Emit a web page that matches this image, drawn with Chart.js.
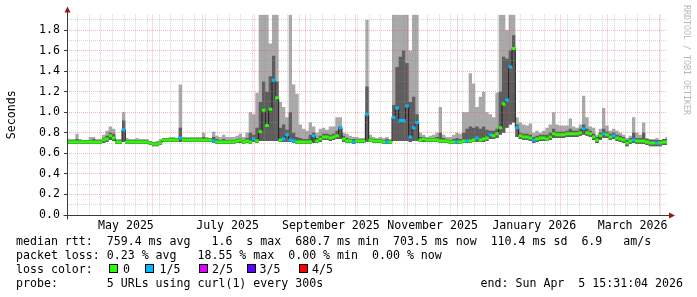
<!DOCTYPE html>
<html>
<head>
<meta charset="utf-8">
<script src="https://cdn.jsdelivr.net/npm/chart.js@4.4.1/dist/chart.umd.min.js"></script>
<style>
  html, body { margin:0; padding:0; background:#fff; }
  #wrap { position:relative; width:697px; height:297px; background:#fff; overflow:hidden; }
  #c { position:absolute; left:0; top:0; }
  .mono { font-family:'DejaVu Sans Mono', monospace; font-size:11.6px; color:#000; white-space:pre; position:absolute; margin:0; line-height:14px; }
  .box { position:absolute; width:7px; height:7px; border:1px solid #000; }
  #credit { position:absolute; left:682px; top:5px; writing-mode:vertical-rl; font-family:'DejaVu Sans Mono', monospace; font-size:8.3px; color:#b8b8b8; white-space:pre; line-height:10px; }
</style>
</head>
<body>
<div id="wrap">
  <canvas id="c" width="697" height="297"></canvas>
  <div id="credit">RRDTOOL / TOBI OETIKER</div>
  <div class="mono" style="left:16px;top:234px;">median rtt:  759.4 ms avg   1.6  s max  680.7 ms min  703.5 ms now  110.4 ms sd  6.9   am/s</div>
  <div class="mono" style="left:16px;top:248px;">packet loss: 0.23 % avg   18.55 % max  0.00 % min  0.00 % now</div>
  <div class="mono" style="left:16px;top:262px;">loss color:</div>
  <div id="losslegend"></div>
  <div class="mono" style="left:16px;top:276px;">probe:       5 URLs using curl(1) every 300s</div>
  <div class="mono" style="right:14px;top:276px;">end: Sun Apr  5 15:31:04 2026</div>
</div>
<script>
// ---------------- data ----------------
// Samples every 2 days, starting at the graph start (Apr 10 2025 15:31:04), 181 samples.
const SAMPLE_DAYS = 2;

const median = [
  0.71,0.71,0.71,0.71,0.71,0.71,0.71,0.71,0.71,0.71,
  0.71,0.73,0.74,0.77,0.75,0.71,0.71,0.83,0.71,0.71,
  0.71,0.71,0.71,0.71,0.71,0.70,0.69,0.69,0.70,0.73,
  0.73,0.73,0.73,0.73,0.75,0.73,0.73,0.73,0.73,0.73,
  0.73,0.73,0.73,0.73,0.72,0.71,0.71,0.71,0.71,0.71,
  0.71,0.72,0.73,0.71,0.72,0.71,0.74,0.72,0.81,1.02,
  0.87,1.03,1.31,1.14,0.73,0.74,0.78,0.73,0.72,0.71,
  0.71,0.71,0.71,0.71,0.77,0.72,0.74,0.76,0.76,0.75,
  0.76,0.77,0.85,0.74,0.72,0.72,0.71,0.72,0.72,0.72,
  0.98,0.73,0.72,0.72,0.72,0.71,0.71,0.71,0.95,1.04,
  0.92,0.92,1.06,0.76,0.85,0.90,0.73,0.74,0.73,0.73,
  0.73,0.73,0.72,0.72,0.72,0.71,0.71,0.71,0.71,0.72,
  0.72,0.72,0.73,0.75,0.73,0.74,0.75,0.78,0.77,0.79,
  0.85,1.08,1.12,1.44,1.62,0.85,0.77,0.76,0.76,0.75,
  0.73,0.74,0.75,0.75,0.74,0.76,0.79,0.78,0.78,0.78,
  0.79,0.79,0.79,0.79,0.80,0.84,0.80,0.79,0.76,0.73,
  0.77,0.79,0.78,0.76,0.77,0.75,0.74,0.73,0.70,0.72,
  0.73,0.72,0.72,0.72,0.71,0.70,0.70,0.70,0.70,0.71,0.71
];

// lost pings out of 5 per sample
const loss = [
  0,0,0,0,0,0,0,0,0,0,
  0,0,0,0,0,0,0,1,0,0,
  0,0,0,0,0,0,0,0,0,0,
  0,0,0,0,1,0,0,0,0,0,
  0,0,0,0,1,0,0,0,0,0,
  0,0,0,0,0,0,1,0,0,0,
  0,0,1,0,0,1,1,1,1,0,
  0,0,0,0,1,0,0,0,0,0,
  0,0,1,0,0,0,1,0,0,0,
  1,0,0,0,0,0,1,0,1,1,
  1,1,1,1,1,1,0,0,0,0,
  0,0,0,0,0,0,0,1,0,0,
  1,0,0,1,0,0,0,1,0,0,
  0,0,1,1,0,1,0,0,0,0,
  1,0,0,0,0,0,0,0,0,0,
  0,0,0,0,0,1,0,0,0,0,
  0,1,0,0,1,0,0,0,0,0,
  1,0,0,0,0,0,0,1,0,0,0
];

// smoke: lowest ping
const smokeMin = [
  0.69,0.69,0.69,0.69,0.69,0.69,0.69,0.69,0.69,0.69,
  0.69,0.70,0.71,0.73,0.72,0.69,0.69,0.71,0.69,0.69,
  0.69,0.69,0.69,0.69,0.69,0.68,0.67,0.67,0.68,0.71,
  0.71,0.71,0.71,0.71,0.71,0.71,0.71,0.71,0.71,0.71,
  0.71,0.71,0.71,0.71,0.70,0.69,0.69,0.69,0.69,0.69,
  0.69,0.70,0.70,0.69,0.70,0.69,0.71,0.70,0.72,0.72,
  0.72,0.72,0.72,0.72,0.71,0.71,0.71,0.71,0.70,0.69,
  0.69,0.69,0.69,0.69,0.70,0.70,0.71,0.73,0.73,0.72,
  0.73,0.74,0.74,0.71,0.70,0.70,0.69,0.70,0.70,0.70,
  0.71,0.71,0.70,0.70,0.70,0.69,0.69,0.69,0.72,0.72,
  0.72,0.72,0.72,0.71,0.72,0.72,0.71,0.71,0.71,0.71,
  0.71,0.71,0.70,0.70,0.70,0.69,0.69,0.69,0.69,0.70,
  0.70,0.70,0.71,0.71,0.71,0.71,0.72,0.74,0.74,0.75,
  0.78,0.80,0.85,0.88,0.90,0.76,0.74,0.73,0.73,0.72,
  0.70,0.71,0.72,0.72,0.72,0.73,0.75,0.75,0.75,0.75,
  0.76,0.76,0.76,0.76,0.77,0.78,0.77,0.76,0.73,0.70,
  0.73,0.75,0.75,0.73,0.74,0.72,0.71,0.70,0.67,0.69,
  0.70,0.69,0.69,0.69,0.68,0.67,0.67,0.67,0.67,0.68,0.68
];

// smoke: dense middle part (top edge)
const smokeCore = [
  0.73,0.73,0.73,0.74,0.73,0.73,0.73,0.73,0.74,0.73,
  0.73,0.75,0.77,0.80,0.79,0.73,0.73,0.92,0.73,0.73,
  0.73,0.73,0.73,0.73,0.73,0.72,0.71,0.71,0.72,0.75,
  0.75,0.75,0.75,0.75,0.85,0.75,0.75,0.75,0.75,0.75,
  0.75,0.76,0.75,0.75,0.76,0.74,0.73,0.74,0.73,0.73,
  0.73,0.74,0.75,0.73,0.75,0.80,0.78,0.85,1.10,1.30,
  1.20,1.35,1.55,1.30,0.85,0.88,0.83,1.00,0.80,0.76,
  0.75,0.74,0.74,0.78,0.80,0.75,0.77,0.79,0.79,0.78,
  0.79,0.82,0.86,0.77,0.75,0.74,0.74,0.74,0.74,0.74,
  1.25,0.75,0.74,0.74,0.74,0.73,0.74,0.73,1.07,1.44,
  1.54,1.60,1.48,1.10,1.15,0.98,0.76,0.76,0.75,0.75,
  0.75,0.76,0.80,0.75,0.74,0.73,0.74,0.75,0.74,0.80,
  0.84,0.86,0.85,0.86,0.84,0.86,0.83,0.82,0.82,0.84,
  1.20,1.54,1.52,1.60,1.75,0.88,0.80,0.79,0.79,0.78,
  0.76,0.77,0.78,0.78,0.78,0.80,0.84,0.81,0.81,0.81,
  0.82,0.84,0.82,0.82,0.84,0.88,0.84,0.82,0.79,0.76,
  0.80,0.84,0.81,0.79,0.80,0.78,0.77,0.76,0.73,0.75,
  0.80,0.75,0.75,0.80,0.74,0.73,0.73,0.73,0.73,0.74,0.74
];

// smoke: highest ping
const smokeMax = [
  0.75,0.74,0.74,0.79,0.74,0.73,0.73,0.76,0.76,0.74,
  0.74,0.78,0.82,0.86,0.84,0.74,0.74,1.00,0.75,0.74,
  0.74,0.75,0.74,0.74,0.74,0.72,0.71,0.72,0.74,0.75,
  0.75,0.76,0.76,0.75,1.27,0.76,0.76,0.76,0.76,0.76,
  0.76,0.80,0.76,0.75,0.81,0.77,0.76,0.78,0.76,0.76,
  0.76,0.77,0.79,0.76,0.80,1.00,0.98,1.19,1.95,1.95,
  1.95,1.67,1.95,1.95,1.10,1.05,0.95,1.95,1.27,1.18,
  0.88,0.84,0.82,0.90,0.86,0.80,0.84,0.85,0.83,0.86,
  0.86,0.95,0.95,0.80,0.79,0.77,0.76,0.76,0.75,0.75,
  1.90,0.78,0.76,0.75,0.76,0.75,0.76,0.74,1.95,1.95,
  1.95,1.95,1.95,1.60,1.95,1.95,0.80,0.78,0.76,0.77,
  0.78,0.80,1.05,0.78,0.76,0.76,0.78,0.80,0.79,1.00,
  1.00,1.38,1.28,1.05,1.15,1.20,1.00,0.98,0.95,1.19,
  1.95,1.95,1.80,1.95,1.95,0.95,0.90,0.88,0.87,0.89,
  0.80,0.82,0.80,0.82,0.85,0.88,1.00,0.88,0.87,0.87,
  0.87,0.94,0.86,0.85,0.88,1.16,0.95,0.86,0.85,0.78,
  0.84,1.04,0.87,0.82,0.84,0.82,0.80,0.78,0.75,0.77,
  0.95,0.80,0.78,0.90,0.75,0.74,0.74,0.75,0.73,0.74,0.76
];

// axes
const yTickValues = [0,0.1,0.2,0.3,0.4,0.5,0.6,0.7,0.8,0.9,1.0,1.1,1.2,1.3,1.4,1.5,1.6,1.7,1.8,1.9];
const monthStarts = ['2025-05-01','2025-06-01','2025-07-01','2025-08-01','2025-09-01','2025-10-01',
                     '2025-11-01','2025-12-01','2026-01-01','2026-02-01','2026-03-01','2026-04-01'];
const monthLabels = ['May 2025','July 2025','September 2025','November 2025','January 2026','March 2026'];
const monthLabelDates = ['2025-05-16','2025-07-16','2025-09-16','2025-11-16','2026-01-16','2026-03-16'];
const lossLegend = [
  {label:'0',   color:'#26ff00', box:109, text:123},
  {label:'1/5', color:'#00b8ff', box:145, text:159.5},
  {label:'2/5', color:'#dd00ff', box:199, text:212},
  {label:'3/5', color:'#5e00ff', box:247, text:259.5},
  {label:'4/5', color:'#ff0000', box:299, text:312}
];

// ---------------- helpers ----------------
const START = Date.UTC(2025, 3, 10, 15, 31, 4);
const SPAN_DAYS = 360;
const DAY = 86400000;
function dayOf(s) { const [y,m,d] = s.split('-').map(Number); return (Date.UTC(y, m-1, d) - START) / DAY; }

const xs = median.map((_, i) => i * SAMPLE_DAYS);
const pts = arr => arr.map((v, i) => ({x: xs[i], y: v}));
const lossColor = ['#26ff00','#00b8ff','#dd00ff','#5e00ff','#ff0000'];

// x ticks: weekly (minor), month starts (major), label positions
const monthDays = monthStarts.map(dayOf);
const xTicks = [];
for (let d = dayOf('2025-05-01') - 14; d <= SPAN_DAYS; d += 7) {
  if (d < 0) continue;
  if (monthDays.some(m => Math.abs(m - d) < 0.5)) continue;
  xTicks.push({value: d, kind: 'minor'});
}
monthDays.forEach(d => xTicks.push({value: d, kind: 'major'}));
monthLabelDates.forEach((s, i) => xTicks.push({value: dayOf(s), kind: 'label', text: monthLabels[i]}));
xTicks.sort((a, b) => a.value - b.value);

// loss legend (HTML)
const ll = document.getElementById('losslegend');
lossLegend.forEach(e => {
  const b = document.createElement('div');
  b.className = 'box'; b.style.left = e.box + 'px'; b.style.top = '264px'; b.style.background = e.color;
  ll.appendChild(b);
  const t = document.createElement('div');
  t.className = 'mono'; t.style.left = e.text + 'px'; t.style.top = '262px'; t.textContent = e.label;
  ll.appendChild(t);
});

const FONT = {family: "'DejaVu Sans Mono', monospace", size: 11.6};
const GRID_MINOR = 'rgba(150,150,150,0.38)';
const GRID_MAJOR = 'rgba(222,80,80,0.42)';

const axesPlugin = {
  id: 'rrdAxes',
  afterDraw(chart) {
    const {ctx, chartArea: a} = chart;
    const y0 = Math.round(chart.scales.y.getPixelForValue(0)) + 0.5;
    const x0 = Math.round(a.left) + 0.5;
    ctx.save();
    ctx.strokeStyle = '#3a3a3a';
    ctx.lineWidth = 1;
    ctx.beginPath();
    ctx.moveTo(x0 - 4, y0); ctx.lineTo(a.right + 3, y0);
    ctx.moveTo(x0, y0 + 4); ctx.lineTo(x0, a.top - 3);
    ctx.stroke();
    ctx.fillStyle = '#8b1a1a';
    ctx.beginPath();
    ctx.moveTo(a.right + 2, y0 - 3); ctx.lineTo(a.right + 8, y0); ctx.lineTo(a.right + 2, y0 + 3); ctx.closePath(); ctx.fill();
    ctx.beginPath();
    ctx.moveTo(x0 - 3, a.top - 2); ctx.lineTo(x0, a.top - 8); ctx.lineTo(x0 + 3, a.top - 2); ctx.closePath(); ctx.fill();
    ctx.restore();
  }
};

new Chart(document.getElementById('c'), {
  type: 'line',
  data: {
    datasets: [
      { // median, coloured by loss
        data: pts(median), showLine: false, pointStyle: 'line', pointRadius: 1.9, pointBorderWidth: 3,
        pointBorderColor: loss.map(l => lossColor[l]), pointBackgroundColor: loss.map(l => lossColor[l])
      },
      { // dark connecting line of median
        data: pts(median), stepped: 'middle', borderColor: '#1c1c1c', borderWidth: 1, pointRadius: 0, fill: false
      },
      { // dense smoke
        data: pts(smokeCore), stepped: 'middle', borderWidth: 0, borderColor: 'rgba(0,0,0,0)', pointRadius: 0,
        fill: {target: 4}, backgroundColor: '#5e5e5e'
      },
      { // light smoke
        data: pts(smokeMax), stepped: 'middle', borderWidth: 0, borderColor: 'rgba(0,0,0,0)', pointRadius: 0,
        fill: {target: 4}, backgroundColor: '#a9a9a9'
      },
      { // smoke floor
        data: pts(smokeMin), stepped: 'middle', borderWidth: 0, borderColor: 'rgba(0,0,0,0)', pointRadius: 0, fill: false
      }
    ]
  },
  options: {
    responsive: false, animation: false, events: [], devicePixelRatio: 1,
    layout: {padding: {left: 0, right: 30, top: 14.6, bottom: 62}},
    plugins: {legend: {display: false}, tooltip: {enabled: false}},
    scales: {
      x: {
        type: 'linear', min: 0, max: SPAN_DAYS,
        afterFit: s => { s.height = 20; },
        afterBuildTicks: s => { s.ticks = xTicks.map(t => Object.assign({}, t)); },
        ticks: {
          autoSkip: false, maxRotation: 0, minRotation: 0, padding: 4, color: '#000', font: FONT,
          callback: (v, i, ticks) => ticks[i] && ticks[i].kind === 'label' ? ticks[i].text : ''
        },
        grid: {
          z: 1, drawTicks: false,
          color: c => c.tick && c.tick.kind === 'major' ? GRID_MAJOR : (c.tick && c.tick.kind === 'minor' ? GRID_MINOR : 'rgba(0,0,0,0)'),
          lineWidth: c => c.tick && c.tick.kind === 'label' ? 0 : 1,
          borderDash: [1, 1]
        },
        border: {display: false, dash: [1, 1]}
      },
      y: {
        type: 'linear', min: 0, max: 1.95,
        afterFit: s => { s.width = 67; },
        afterBuildTicks: s => { s.ticks = yTickValues.map(v => ({value: v})); },
        ticks: {
          autoSkip: false, padding: 4, color: '#000', font: FONT,
          callback: v => (Math.round(v * 10) % 2 === 0) ? v.toFixed(1) : ''
        },
        grid: {
          z: 1, drawTicks: true, tickLength: 3, tickBorderDash: [],
          color: c => (c.tick && Math.round(c.tick.value * 10) % 2 === 0) ? GRID_MAJOR : GRID_MINOR,
          tickColor: c => (c.tick && Math.round(c.tick.value * 10) % 2 === 0) ? '#3a3a3a' : 'rgba(0,0,0,0)',
          borderDash: [1, 1]
        },
        border: {display: false, dash: [1, 1]},
        title: {display: true, text: 'Seconds', color: '#000', font: FONT, padding: {top: 5, bottom: 0}}
      }
    }
  },
  plugins: [axesPlugin]
});
</script>
</body>
</html>
